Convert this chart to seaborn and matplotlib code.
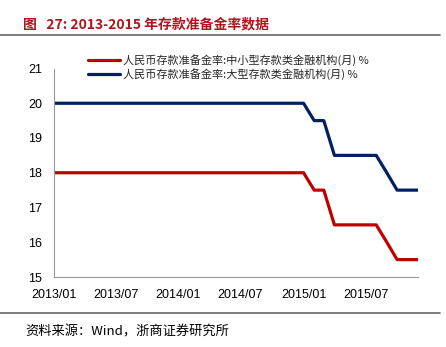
import matplotlib
matplotlib.use("Agg")
import matplotlib.pyplot as plt
import seaborn as sns
import pandas as pd
from matplotlib.lines import Line2D

sns.set_theme(style="white")
plt.rcParams['font.family'] = ['Noto Sans CJK SC', 'DejaVu Sans']

months = pd.date_range("2013-01-01", "2015-12-01", freq="MS")
small_rrr = [18.0] * 25 + [17.5, 17.5] + [16.5] * 5 + [16.0] + [15.5] * 3
large_rrr = [20.0] * 25 + [19.5, 19.5] + [18.5] * 5 + [18.0] + [17.5] * 3
series_names = ["人民币存款准备金率:中小型存款类金融机构(月) %",
                "人民币存款准备金率:大型存款类金融机构(月) %"]
colors = ["#C00000", "#002060"]
tick_labels = ["2013/01", "2013/07", "2014/01", "2014/07", "2015/01", "2015/07"]
y_ticks = [15, 16, 17, 18, 19, 20, 21]

df = pd.DataFrame({"date": list(months) * 2,
                   "value": small_rrr + large_rrr,
                   "series": [series_names[0]] * 36 + [series_names[1]] * 36})

fig = plt.figure(figsize=(4.46, 3.47), dpi=100)
ax = fig.add_axes([53.5 / 446, 1 - 277 / 347, (418 - 53.5) / 446, (277 - 68.5) / 347])
sns.lineplot(data=df, x="date", y="value", hue="series", palette=colors,
             linewidth=2.3, ax=ax, legend=False)

ax.set_xlim(months[0], months[-1])
ax.set_ylim(15, 21)
ax.set_yticks(y_ticks)
ax.set_yticklabels([str(v) for v in y_ticks], fontsize=9, family=['Liberation Sans', 'DejaVu Sans'])
tick_dates = pd.to_datetime([t.replace("/", "-") + "-01" for t in tick_labels])
ax.set_xticks(tick_dates)
ax.set_xticklabels(tick_labels, fontsize=9, family=['Liberation Sans', 'DejaVu Sans'])
ax.set_xlabel("")
ax.set_ylabel("")
for s in ["top", "right"]:
    ax.spines[s].set_visible(False)
for s in ["left", "bottom"]:
    ax.spines[s].set_color("#999999")
    ax.spines[s].set_linewidth(0.8)
ax.tick_params(axis="both", direction="in", length=3.5, width=0.8, color="#999999",
               labelcolor="black", pad=8)
ax.tick_params(axis="x", pad=9)

handles = [Line2D([0], [0], color=c, lw=2.3) for c in colors]
fig.legend(handles, series_names, loc="upper left", bbox_to_anchor=(84 / 446, 1 - 50 / 347),
           frameon=False, fontsize=8, handlelength=2.8, handletextpad=0.3,
           labelspacing=0.15, borderaxespad=0)

fig.text(23 / 446, 1 - 24 / 347, "图   27: 2013-2015 年存款准备金率数据", color="#B0141E",
         fontsize=10, fontweight="bold", va="center", ha="left")
fig.add_artist(Line2D([0, 440 / 446], [1 - 34.5 / 347] * 2, color="#666666", lw=1.2))
fig.add_artist(Line2D([0, 440 / 446], [1 - 313 / 347] * 2, color="#666666", lw=1.2))
fig.text(25 / 446, 1 - 332 / 347, "资料来源：Wind，浙商证券研究所", color="black",
         fontsize=9.5, va="center", ha="left")

fig.savefig("out.png", dpi=100)
